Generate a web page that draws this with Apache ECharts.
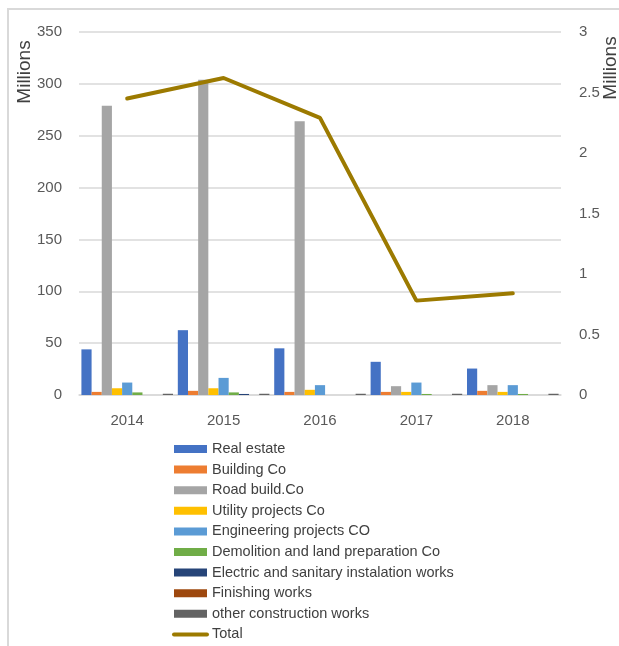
<!DOCTYPE html>
<html>
<head>
<meta charset="utf-8">
<script src="https://cdn.jsdelivr.net/npm/echarts@6/dist/echarts.min.js"></script>
<style>
  html, body { margin: 0; padding: 0; background: #fff; }
  .frame {
    position: absolute; left: 7px; top: 8px; width: 640px; height: 660px;
    border: 2px solid #d9d9d9;
  }
  #chart { position: absolute; left: 0; top: 0; width: 619px; height: 646px; }
</style>
</head>
<body>
<div class="frame"></div>
<div id="chart"></div>
<script>
const years = ['2014', '2015', '2016', '2017', '2018']

// values in millions
const realEstate = [44, 62.5, 45, 32, 25.5]
const buildingCo = [3, 4, 3, 3, 4]
const roadBuild = [279, 304, 264, 8.5, 9.5]
const utilityProjects = [6.5, 6.5, 5, 3, 3]
const engineeringProjects = [12, 16.5, 9.5, 12, 9.5]
const demolition = [2.5, 2.5, 0, 1, 1]
const electricSanitary = [0, 1, 0, 0, 0]
const finishingWorks = [0, 0, 0, 0, 0]
const otherWorks = [1.2, 1.2, 1.2, 1.2, 1.2]
const total = [2.45, 2.62, 2.29, 0.78, 0.84]

const leftTicks = { min: 0, max: 350, interval: 50 }
const rightTicks = { min: 0, max: 3, interval: 0.5 }

const font = "'Liberation Sans Narrow', 'Liberation Sans', sans-serif"

const barSeries = [
  ['Real estate', realEstate, '#4472c4'],
  ['Building Co', buildingCo, '#ed7d31'],
  ['Road build.Co', roadBuild, '#a5a5a5'],
  ['Utility projects Co', utilityProjects, '#ffc000'],
  ['Engineering projects CO', engineeringProjects, '#5b9bd5'],
  ['Demolition and land preparation Co', demolition, '#70ad47'],
  ['Electric and sanitary instalation works', electricSanitary, '#264478'],
  ['Finishing works', finishingWorks, '#9e480e'],
  ['other construction works', otherWorks, '#636363']
].map(([name, data, color]) => ({
  name,
  type: 'bar',
  data,
  barGap: 0,
  barCategoryGap: '5%',
  itemStyle: { color },
  emphasis: { disabled: true }
}))

const chart = echarts.init(document.getElementById('chart'))

chart.setOption({
  animation: false,
  textStyle: { fontFamily: font },
  grid: { left: 79, right: 58, top: 32, bottom: 251 },
  legend: {
    orient: 'vertical',
    left: 172,
    top: 441,
    height: 215,
    padding: 0,
    itemWidth: 33,
    itemHeight: 8,
    itemGap: 4.6,
    textStyle: { color: '#404040', fontSize: 14.5, lineHeight: 16, fontFamily: font },
    data: barSeries.map(s => ({ name: s.name, icon: 'rect' })).concat([
      {
        name: 'Total',
        itemStyle: { opacity: 0, borderWidth: 0 },
        lineStyle: { width: 4, cap: 'round', color: '#9c7a00' }
      }
    ])
  },
  xAxis: {
    type: 'category',
    data: years,
    axisLine: { lineStyle: { color: '#d9d9d9', width: 1.5 } },
    axisTick: { show: false },
    axisLabel: { color: '#595959', fontSize: 15, margin: 18 }
  },
  yAxis: [
    {
      type: 'value',
      ...leftTicks,
      axisLine: { show: false },
      axisTick: { show: false },
      axisLabel: { color: '#595959', fontSize: 15, margin: 17 },
      splitLine: { lineStyle: { color: '#d9d9d9', width: 1.5 } }
    },
    {
      type: 'value',
      ...rightTicks,
      axisLine: { show: false },
      axisTick: { show: false },
      axisLabel: { color: '#595959', fontSize: 15, margin: 18 },
      splitLine: { show: false }
    }
  ],
  graphic: [
    {
      type: 'text', x: 25, y: 72, rotation: Math.PI / 2,
      style: { text: 'Millions', fill: '#404040', font: '19px ' + font, align: 'center', verticalAlign: 'middle' }
    },
    {
      type: 'text', x: 611, y: 68, rotation: Math.PI / 2,
      style: { text: 'Millions', fill: '#404040', font: '19px ' + font, align: 'center', verticalAlign: 'middle' }
    }
  ],
  series: barSeries.concat([
    {
      name: 'Total',
      type: 'line',
      yAxisIndex: 1,
      data: total,
      symbol: 'none',
      lineStyle: { color: '#9c7a00', width: 4, cap: 'round' },
      itemStyle: { color: '#9c7a00' },
      emphasis: { disabled: true }
    }
  ])
})
</script>
</body>
</html>
